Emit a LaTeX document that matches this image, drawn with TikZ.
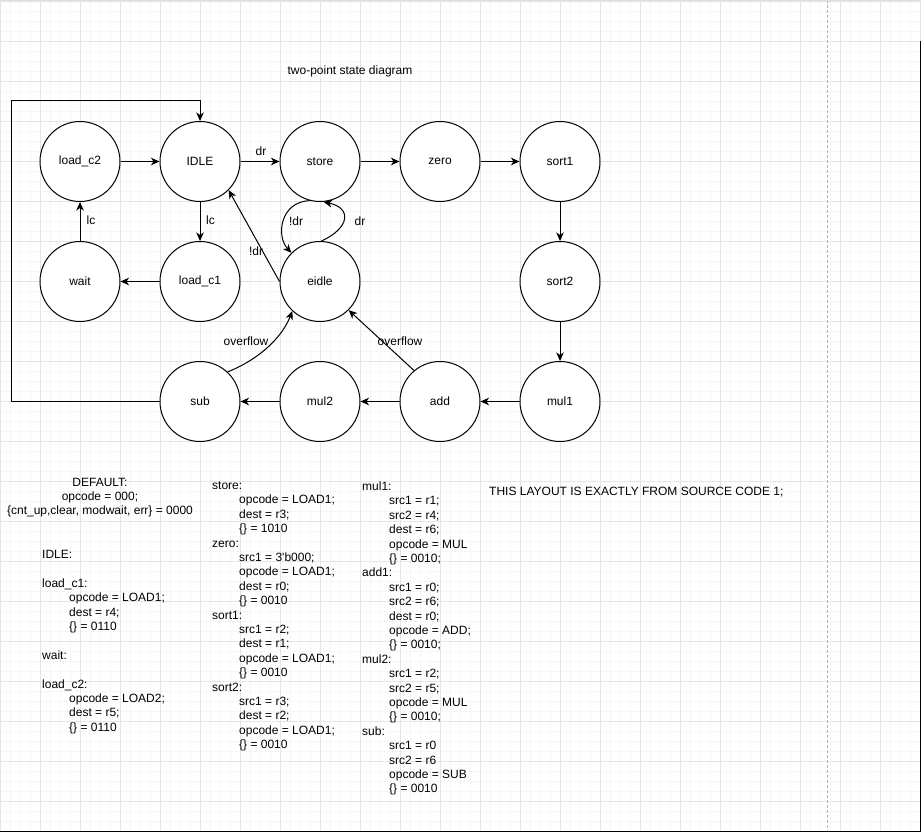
\documentclass[tikz,border=0pt]{standalone}
\usepackage{fontspec}
\setmainfont{Liberation Sans}
\usetikzlibrary{arrows.meta}
\newcommand\dfont{\fontsize{12}{14.4}\selectfont}
\newcommand\txtblock[2]{\begin{tabular}[t]{@{}#1@{}}#2\end{tabular}}
\newcommand\ind{\hspace*{27pt}}
\begin{document}
\begin{tikzpicture}[x=1pt,y=-1pt,
  state/.style={circle, draw, fill=white, line width=1pt, minimum size=80pt, inner sep=0pt, font=\dfont},
  edge/.style={line width=1pt, -{Stealth[length=8.5pt,width=7.5pt,inset=2.5pt]}},
  lbl/.style={font=\dfont, inner sep=0pt},
  blk/.style={font=\dfont, inner sep=0pt, anchor=base west},
  minorgrid/.style={line width=0.8pt, color=gray!7},
  majorgrid/.style={line width=0.8pt, color=gray!20}]
\useasboundingbox (0,0) rectangle (921,832);
\fill[white] (0,0) rectangle (921,832);
% grid
\foreach \x in {0,10,...,920} \draw[minorgrid] (\x,0) -- (\x,832);
\foreach \y in {1.5,11.5,...,831.5} \draw[minorgrid] (0,\y) -- (921,\y);
\foreach \x in {0,40,...,920} \draw[majorgrid] (\x,0) -- (\x,832);
\foreach \y in {1.5,41.5,...,831.5} \draw[majorgrid] (0,\y) -- (921,\y);
\draw[gray!60, line width=1pt, dash pattern=on 3pt off 2pt] (827,0) -- (827,832);
\draw[gray!25, line width=1.5pt] (0,0.75) -- (921,0.75);
\draw[black, line width=1.5pt] (920.25,41.5) -- (920.25,832);
\draw[black, line width=1.5pt] (0,831.25) -- (921,831.25);

% title
\node[lbl] (title) at (350,71) {two-point state diagram};

% states
\node[state] (load_c2) at (80,161.5) {load\_c2};
\node[state] (IDLE) at (200,161.5) {IDLE};
\node[state] (store) at (320,161.5) {store};
\node[state] (zero) at (440,161.5) {zero};
\node[state] (sort1) at (560,161.5) {sort1};
\node[state] (wait) at (80,281.5) {wait};
\node[state] (load_c1) at (200,281.5) {load\_c1};
\node[state] (eidle) at (320,281.5) {eidle};
\node[state] (sort2) at (560,281.5) {sort2};
\node[state] (sub) at (200,401.5) {sub};
\node[state] (mul2) at (320,401.5) {mul2};
\node[state] (add) at (440,401.5) {add};
\node[state] (mul1) at (560,401.5) {mul1};

% straight edges
\draw[edge] (load_c2) -- (IDLE);
\draw[edge] (IDLE) -- (store);
\draw[edge] (store) -- (zero);
\draw[edge] (zero) -- (sort1);
\draw[edge] (sort1) -- (sort2);
\draw[edge] (sort2) -- (mul1);
\draw[edge] (mul1) -- (add);
\draw[edge] (add) -- (mul2);
\draw[edge] (mul2) -- (sub);
\draw[edge] (IDLE) -- (load_c1);
\draw[edge] (load_c1) -- (wait);
\draw[edge] (wait) -- (load_c2);
\draw[edge] (eidle.west) -- (IDLE.-45);
\draw[edge] (add.130) -- (eidle.-45);

% curved edges
\draw[edge] (store.-105) .. controls (280,202) and (276,236) .. (eidle.135);
\draw[edge] (eidle.88) .. controls (350,228) and (352,208) .. (store.-85);
\draw[edge] (sub.47) .. controls (253,362) and (280,342) .. (eidle.-133);

% feedback loop
\coordinate (fbL) at (11,101);
\draw[edge] (sub.west) -| (fbL) -| (IDLE.north);

% edge labels
\node[lbl] (l_dr1) at (261,151) {dr};
\node[lbl] (l_lc1) at (210.5,220) {lc};
\node[lbl] (l_lc2) at (91,220) {lc};
\node[lbl] (l_ndr1) at (256,251) {!dr};
\node[lbl] (l_ndr2) at (296,221) {!dr};
\node[lbl] (l_dr2) at (360,221) {dr};
\node[lbl] (l_of1) at (246,341) {overflow};
\node[lbl] (l_of2) at (400,341) {overflow};

% text blocks
\node[font=\dfont, inner sep=0pt, anchor=base] (default) at (100,486) {\txtblock{c}{DEFAULT:\\ opcode = 000;\\ \{cnt\_up,clear, modwait, err\} = 0000}};

\node[blk] (leftblk) at (42,558.5) {\txtblock{l}{IDLE:\\ \\ load\_c1:\\ \ind opcode = LOAD1;\\ \ind dest = r4;\\ \ind \{\} = 0110\\ \\ wait:\\ \\ load\_c2:\\ \ind opcode = LOAD2;\\ \ind dest = r5;\\ \ind \{\} = 0110}};

\node[blk] (midblk) at (212,489.5) {\txtblock{l}{store:\\ \ind opcode = LOAD1;\\ \ind dest = r3;\\ \ind \{\} = 1010\\ zero:\\ \ind src1 = 3\textquotesingle b000;\\ \ind opcode = LOAD1;\\ \ind dest = r0;\\ \ind \{\} = 0010\\ sort1:\\ \ind src1 = r2;\\ \ind dest = r1;\\ \ind opcode = LOAD1;\\ \ind \{\} = 0010\\ sort2:\\ \ind src1 = r3;\\ \ind dest = r2;\\ \ind opcode = LOAD1;\\ \ind \{\} = 0010}};

\node[blk] (rightblk) at (362,490.5) {\txtblock{l}{mul1:\\ \ind src1 = r1;\\ \ind src2 = r4;\\ \ind dest = r6;\\ \ind opcode = MUL\\ \ind \{\} = 0010;\\ add1:\\ \ind src1 = r0;\\ \ind src2 = r6;\\ \ind dest = r0;\\ \ind opcode = ADD;\\ \ind \{\} = 0010;\\ mul2:\\ \ind src1 = r2;\\ \ind src2 = r5;\\ \ind opcode = MUL\\ \ind \{\} = 0010;\\ sub:\\ \ind src1 = r0\\ \ind src2 = r6\\ \ind opcode = SUB\\ \ind \{\} = 0010}};

\node[blk] (note) at (489,495.5) {THIS LAYOUT IS EXACTLY FROM SOURCE CODE 1;};
\end{tikzpicture}
\end{document}
